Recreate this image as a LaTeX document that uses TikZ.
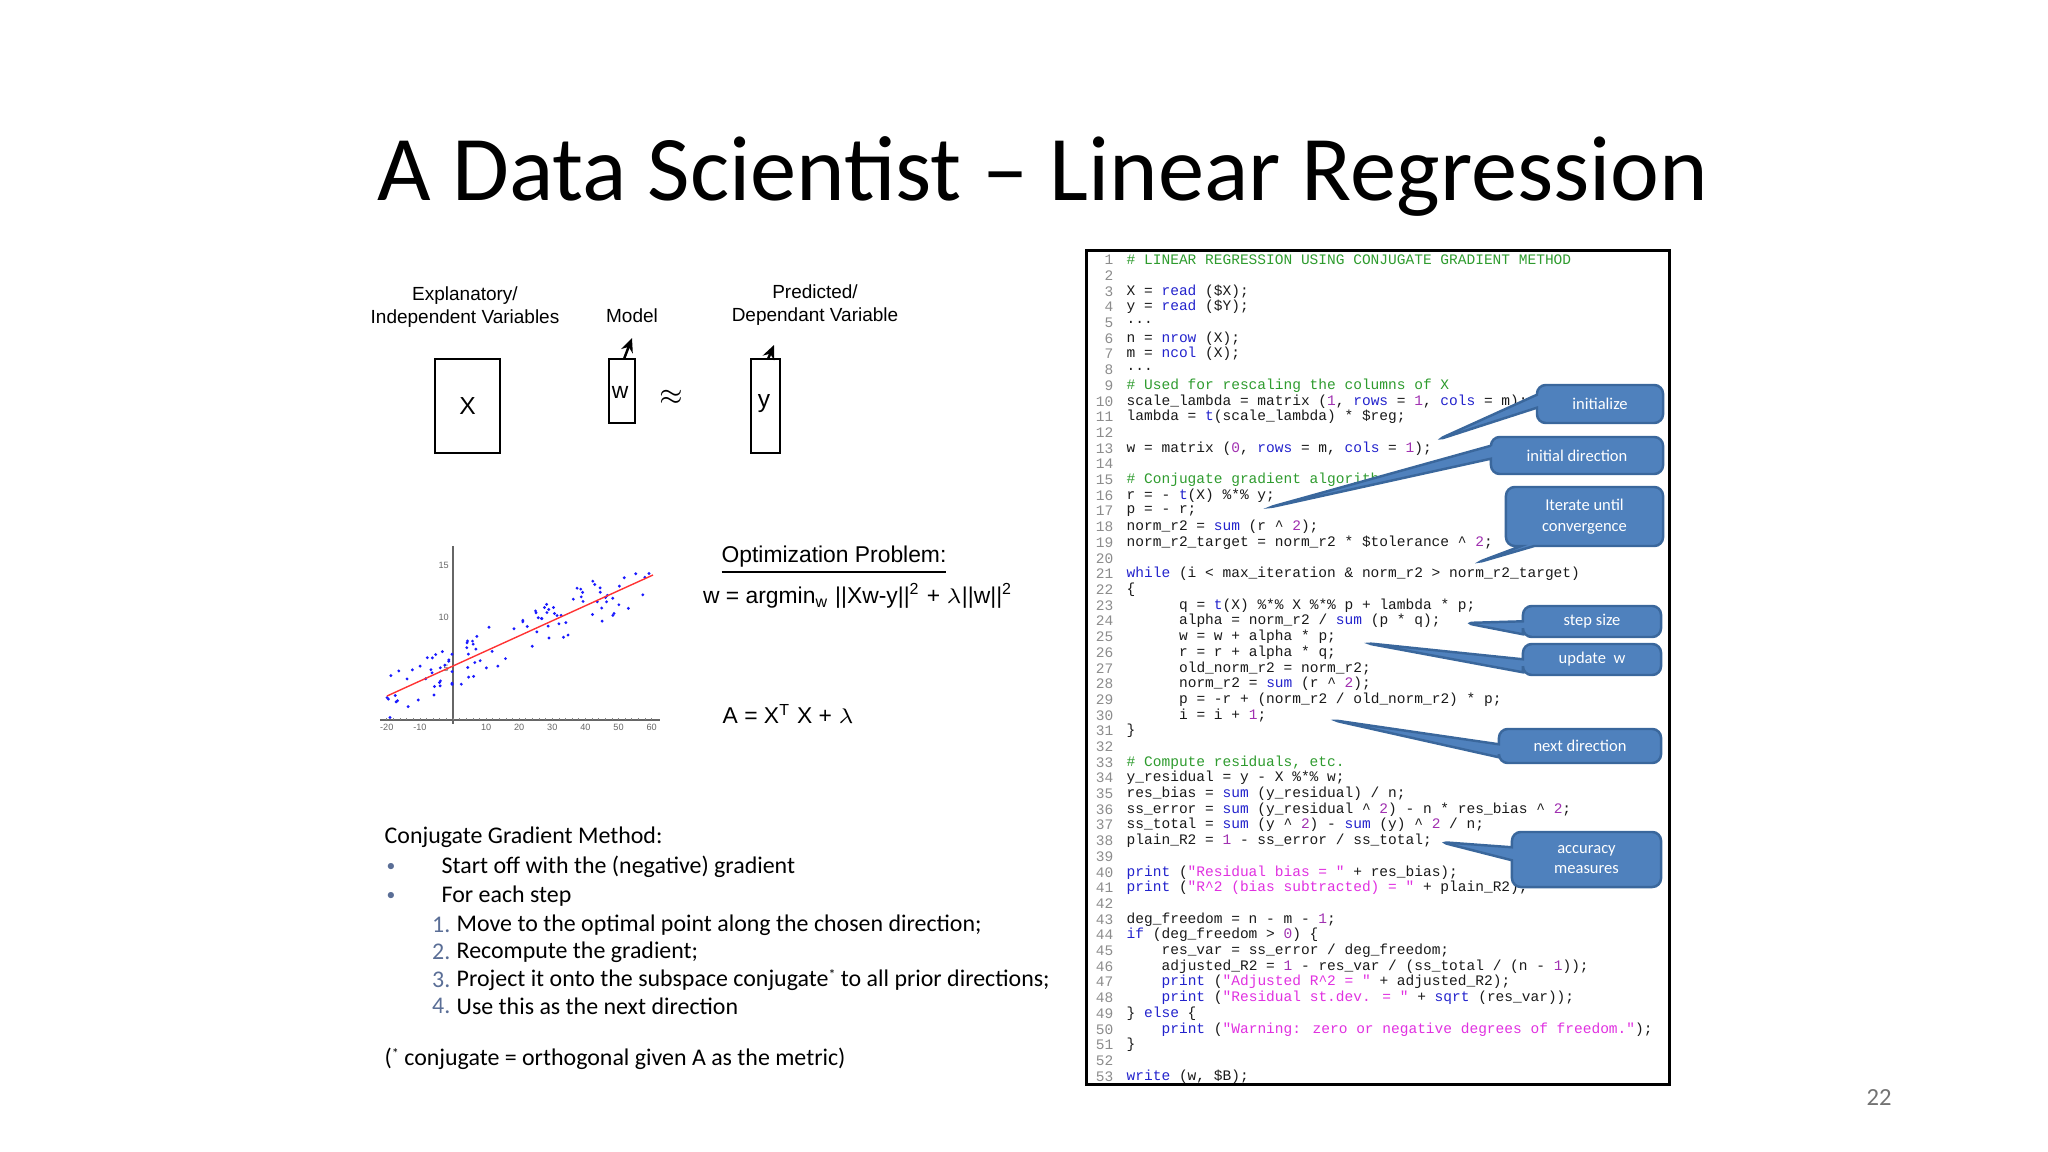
\documentclass[tikz,border=0pt]{standalone}
\usepackage{fontspec}
\setmainfont{Carlito}
\newfontfamily\arialf{Liberation Sans}
\newfontfamily\codef{Liberation Mono}
\usetikzlibrary{shapes.callouts,arrows.meta}
\definecolor{cmt}{HTML}{2E9B2E}
\definecolor{kw}{HTML}{2222CC}
\definecolor{numc}{HTML}{A030B0}
\definecolor{strc}{HTML}{E030E0}
\definecolor{cfill}{HTML}{4F81BD}
\definecolor{cdraw}{HTML}{3A679C}
\definecolor{bul}{HTML}{5A6E96}
\newcommand\K[1]{\textcolor{kw}{#1}}
\newcommand\C[1]{\textcolor{cmt}{#1}}
\newcommand\N[1]{\textcolor{numc}{#1}}
\newcommand\St[1]{\textcolor{strc}{#1}}
\newcommand\ca{\textasciicircum}
\newcommand\codeln[3]{%
  \node[codetxt] (c#1) at ({1126+8.73*#2},{260+15.7*(#1-1)}) {#3};}
\tikzset{
  codetxt/.style={anchor=west,inner sep=0pt,font=\codef\fontsize{4.13}{5}\selectfont,text=black!90},
  lnum/.style={anchor=east,inner sep=0pt,font=\codef\fontsize{4.13}{5}\selectfont,text=black!45},
  callbox/.style={rectangle callout,rounded corners=2.5pt,fill=cfill,draw=cdraw,line width=0.7pt,
    text=white,font=\fontsize{4.7}{5.8}\selectfont,align=center,inner sep=0pt,callout pointer width=0.13cm},
  lab/.style={font=\arialf\fontsize{5.4}{6.5}\selectfont,align=center,inner sep=0pt},
  vbox/.style={draw,line width=0.8pt,inner sep=0pt},
  body/.style={anchor=west,inner sep=0pt,font=\fontsize{6.8}{8}\selectfont},
  bull/.style={anchor=west,inner sep=0pt,font=\fontsize{5}{6}\selectfont,text=bul},
  varrow/.style={-{Stealth[length=4pt,width=3.5pt]},line width=0.7pt},
}
\begin{document}
\begin{tikzpicture}[x=0.01cm,y=-0.01cm]
\useasboundingbox (0,0) rectangle (2048,1152);
% title
\node[inner sep=0pt,font=\fontsize{26.3}{32}\selectfont] (title) at (1043,176) {A Data Scientist -- Linear Regression};
% model diagram
\node[lab] (expl) at (465,307) {Explanatory/\\Independent Variables};
\node[lab] (model) at (632,316) {Model};
\node[lab] (pred) at (815,305) {Predicted/\\Dependant Variable};
\node[vbox,minimum width=0.65cm,minimum height=0.94cm,font=\arialf\fontsize{7}{8}\selectfont] (X) at (467.5,406) {X};
\node[vbox,minimum width=0.26cm,minimum height=0.64cm] (W) at (622,391) {};
\node[font=\arialf\fontsize{6.5}{8}\selectfont,inner sep=0pt] (wl) at (620,392) {w};
\node[font=\fontsize{8}{9}\selectfont,inner sep=0pt] (approx) at (671,397) {$\approx$};
\node[vbox,minimum width=0.29cm,minimum height=0.94cm] (Y) at (765.5,406) {};
\node[font=\arialf\fontsize{7}{8}\selectfont,inner sep=0pt] (yl) at (764,404) {y};
\coordinate (wa) at (632,338); \coordinate (ya) at (774,345);
\coordinate (wb) at (624,359); \coordinate (yb) at (768,359);
\draw[varrow] (wb) -- (wa);
\draw[varrow] (yb) -- (ya);
% scatter plot
\draw[black!60,line width=0.3pt] (380,720) -- (660,720);
\draw[black!60,line width=0.3pt] (453,546) -- (453,724);
\foreach \t in {-20,-10,10,20,30,40,50,60}{
  \node[font=\arialf\fontsize{2.6}{3}\selectfont,text=black!60,inner sep=0pt] at ({453+3.31*\t},727) {\t};}
\foreach \t in {-20,-18,...,60}{\draw[black!50,line width=0.2pt] ({453+3.31*\t},720) -- ({453+3.31*\t},718);}
\foreach \t in {5,10,15}{
  \node[font=\arialf\fontsize{2.6}{3}\selectfont,text=black!60,anchor=east,inner sep=1pt] at (453,{720-10.3*\t}) {\t};}
\pgfmathsetseed{11}
\foreach \i in {1,...,105}{
  \pgfmathsetmacro\xx{-20+80*rnd}
  \pgfmathsetmacro\yy{5.25+0.1475*\xx+2.3*rand}
  \fill[blue!90] ({453+3.31*\xx},{720-10.3*\yy}) circle (1.6);
}
\draw[red!80,line width=0.4pt] (387,696) -- (653,575);
% optimization
\node[inner sep=0pt,font=\arialf\fontsize{6.5}{8}\selectfont] (opt) at (834,560) {\underline{Optimization Problem:}};
\node[inner sep=0pt,font=\arialf\fontsize{6.5}{8}\selectfont] (form) at (858,596) {w = argmin\textsubscript{w} ||Xw-y||\textsuperscript{2} + $\lambda$||w||\textsuperscript{2}};
\node[inner sep=0pt,font=\arialf\fontsize{6.5}{8}\selectfont,anchor=west] (Aeq) at (722,714) {A = X\textsuperscript{T} X + $\lambda$};
% conjugate gradient text
\node[body] (cgm) at (384,837) {Conjugate Gradient Method:};
\node[bull] (b1) at (386,867) {•};
\node[body] (t1) at (441,867) {Start off with the (negative) gradient};
\node[bull] (b2) at (386,896) {•};
\node[body] (t2) at (441,896) {For each step};
\node[body,anchor=east,text=bul] (n1) at (451,925) {1.};
\node[body] (s1) at (456,925) {Move to the optimal point along the chosen direction;};
\node[body,anchor=east,text=bul] (n2) at (451,952) {2.};
\node[body] (s2) at (456,952) {Recompute the gradient;};
\node[body,anchor=east,text=bul] (n3) at (451,980) {3.};
\node[body] (s3) at (456,980) {Project it onto the subspace conjugate\raisebox{0.6ex}{\fontsize{4}{4}\selectfont *} to all prior directions;};
\node[body,anchor=east,text=bul] (n4) at (451,1006) {4.};
\node[body] (s4) at (456,1006) {Use this as the next direction};
\node[body] (foot) at (384,1059) {(\raisebox{0.6ex}{\fontsize{4}{4}\selectfont *} conjugate = orthogonal given A as the metric)};
\node[inner sep=0pt,text=black!55,font=\fontsize{7}{8}\selectfont] (pg) at (1879,1098) {22};
% code panel
\node[draw,line width=0.8pt,minimum width=5.82cm,minimum height=8.33cm,inner sep=0pt] (panel) at (1378,667.5) {};
\foreach \n in {1,...,53}{\node[lnum] at (1114,{260+15.7*(\n-1)}) {\n};}
\codeln{1}{0}{\C{\# LINEAR REGRESSION USING CONJUGATE GRADIENT METHOD}}
\codeln{3}{0}{X = \K{read} (\$X);}
\codeln{4}{0}{y = \K{read} (\$Y);}
\codeln{5}{0}{...}
\codeln{6}{0}{n = \K{nrow} (X);}
\codeln{7}{0}{m = \K{ncol} (X);}
\codeln{8}{0}{...}
\codeln{9}{0}{\C{\# Used for rescaling the columns of X}}
\codeln{10}{0}{scale\_lambda = matrix (\N{1}, \K{rows} = \N{1}, \K{cols} = m);}
\codeln{11}{0}{lambda = \K{t}(scale\_lambda) * \$reg;}
\codeln{13}{0}{w = matrix (\N{0}, \K{rows} = m, \K{cols} = \N{1});}
\codeln{15}{0}{\C{\# Conjugate gradient algorithm}}
\codeln{16}{0}{r = - \K{t}(X) \%*\% y;}
\codeln{17}{0}{p = - r;}
\codeln{18}{0}{norm\_r2 = \K{sum} (r \ca{} \N{2});}
\codeln{19}{0}{norm\_r2\_target = norm\_r2 * \$tolerance \ca{} \N{2};}
\codeln{21}{0}{\K{while} (i < max\_iteration \& norm\_r2 > norm\_r2\_target)}
\codeln{22}{0}{\{}
\codeln{23}{6}{q = \K{t}(X) \%*\% X \%*\% p + lambda * p;}
\codeln{24}{6}{alpha = norm\_r2 / \K{sum} (p * q);}
\codeln{25}{6}{w = w + alpha * p;}
\codeln{26}{6}{r = r + alpha * q;}
\codeln{27}{6}{old\_norm\_r2 = norm\_r2;}
\codeln{28}{6}{norm\_r2 = \K{sum} (r \ca{} \N{2});}
\codeln{29}{6}{p = -r + (norm\_r2 / old\_norm\_r2) * p;}
\codeln{30}{6}{i = i + \N{1};}
\codeln{31}{0}{\}}
\codeln{33}{0}{\C{\# Compute residuals, etc.}}
\codeln{34}{0}{y\_residual = y - X \%*\% w;}
\codeln{35}{0}{res\_bias = \K{sum} (y\_residual) / n;}
\codeln{36}{0}{ss\_error = \K{sum} (y\_residual \ca{} \N{2}) - n * res\_bias \ca{} \N{2};}
\codeln{37}{0}{ss\_total = \K{sum} (y \ca{} \N{2}) - \K{sum} (y) \ca{} \N{2} / n;}
\codeln{38}{0}{plain\_R2 = \N{1} - ss\_error / ss\_total;}
\codeln{40}{0}{\K{print} (\St{"Residual bias = "} + res\_bias);}
\codeln{41}{0}{\K{print} (\St{"R\ca{}2 (bias subtracted) = "} + plain\_R2);}
\codeln{43}{0}{deg\_freedom = n - m - \N{1};}
\codeln{44}{0}{\K{if} (deg\_freedom > \N{0}) \{}
\codeln{45}{4}{res\_var = ss\_error / deg\_freedom;}
\codeln{46}{4}{adjusted\_R2 = \N{1} - res\_var / (ss\_total / (n - \N{1}));}
\codeln{47}{4}{\K{print} (\St{"Adjusted R\ca{}2 = "} + adjusted\_R2);}
\codeln{48}{4}{\K{print} (\St{"Residual st.dev. = "} + \K{sqrt} (res\_var));}
\codeln{49}{0}{\} \K{else} \{}
\codeln{50}{4}{\K{print} (\St{"Warning: zero or negative degrees of freedom."});}
\codeln{51}{0}{\}}
\codeln{53}{0}{\K{write} (w, \$B);}
% callouts
\coordinate (p1) at (1437,440);
\coordinate (p2) at (1267,508);
\coordinate (p3) at (1476,563);
\coordinate (p4) at (1465,623);
\coordinate (p5) at (1365,643);
\coordinate (p6) at (1332,720);
\coordinate (p7) at (1440,842);
\node[callbox,minimum width=1.26cm,minimum height=0.38cm,callout absolute pointer={(p1)}] (k1) at (1600,404) {initialize};
\node[callbox,minimum width=1.72cm,minimum height=0.37cm,callout absolute pointer={(p2)}] (k2) at (1577,455.5) {initial direction};
\node[callbox,minimum width=1.57cm,minimum height=0.59cm,callout absolute pointer={(p3)}] (k3) at (1584.5,516.5) {Iterate until\\convergence};
\node[callbox,minimum width=1.38cm,minimum height=0.31cm,callout absolute pointer={(p4)}] (k4) at (1592,621.5) {step size};
\node[callbox,minimum width=1.38cm,minimum height=0.31cm,callout absolute pointer={(p5)}] (k5) at (1592,659.5) {update\ \ w};
\node[callbox,minimum width=1.62cm,minimum height=0.34cm,callout absolute pointer={(p6)}] (k6) at (1580,746) {next\ direction};
\node[callbox,minimum width=1.49cm,minimum height=0.55cm,callout absolute pointer={(p7)}] (k7) at (1586.5,859.5) {accuracy\\measures};
\end{tikzpicture}
\end{document}
